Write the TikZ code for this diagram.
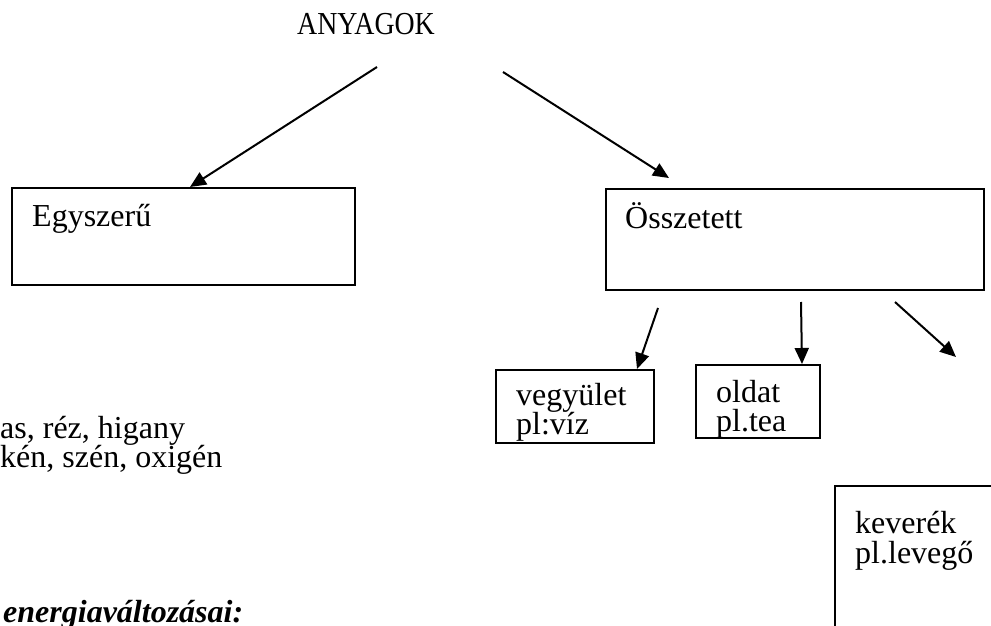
\documentclass[tikz,border=0pt]{standalone}
\usepackage{fontspec}
\setmainfont{Liberation Serif}
\usetikzlibrary{arrows.meta}
\begin{document}
\begin{tikzpicture}[x=1pt,y=-1pt,
  box/.style={draw, line width=1.8pt, inner sep=0pt, anchor=north west},
  lbl/.style={anchor=base west, inner sep=0pt, font=\fontsize{32}{30}\selectfont},
  hdr/.style={anchor=base west, inner sep=0pt, font=\fontsize{32}{30}\selectfont\bfseries\itshape},
  arr/.style={line width=2pt, -{Triangle[length=16pt,width=14pt]}}]
\useasboundingbox (0,0) rectangle (991,626);
\clip (0,0) rectangle (991,626);
% title
\node[lbl] (anyag) at (297,35) {\scalebox{0.87}[1]{ANYAGOK}};
% main boxes
\node[box, minimum width=343pt, minimum height=97pt] (egy) at (11,187) {};
\node[box, minimum width=378pt, minimum height=101pt] (ossz) at (605,188) {};
\node[lbl] (egyt) at (32,226) {Egyszerű};
\node[lbl] (osszt) at (625,228) {Összetett};
% sub boxes
\node[box, minimum width=158pt, minimum height=73pt] (vegy) at (495,369) {};
\node[box, minimum width=124pt, minimum height=73pt] (old) at (695,364) {};
\node[box, minimum width=170pt, minimum height=160pt] (kev) at (834,485) {};
\node[lbl] (vegyt1) at (516,405) {vegyület};
\node[lbl] (vegyt2) at (516,434) {pl:víz};
\node[lbl] (oldt1) at (716,402) {oldat};
\node[lbl] (oldt2) at (716,431) {pl.tea};
\node[lbl] (kevt1) at (855,533) {keverék};
\node[lbl] (kevt2) at (855,563) {pl.levegő};
% left text
\node[lbl] (fem) at (0,438) {as, réz, higany};
\node[lbl] (nemfem) at (0,467) {kén, szén, oxigén};
\node[hdr] (energ) at (3,622) {energiaváltozásai:};
% arrows
\coordinate (a1s) at (377,67);
\coordinate (a2s) at (503,72);
\coordinate (a2e) at (669,178);
\coordinate (a3s) at (658,308);
\coordinate (a4s) at (801,302);
\coordinate (a5s) at (895,302);
\coordinate (a5e) at (956,357);
\draw[arr] (a1s) -- ([xshift=179pt]egy.north west);
\draw[arr] (a2s) -- (a2e);
\draw[arr] (a3s) -- ([xshift=142pt]vegy.north west);
\draw[arr] (a4s) -- ([xshift=107pt]old.north west);
\draw[arr] (a5s) -- (a5e);
\end{tikzpicture}
\end{document}
